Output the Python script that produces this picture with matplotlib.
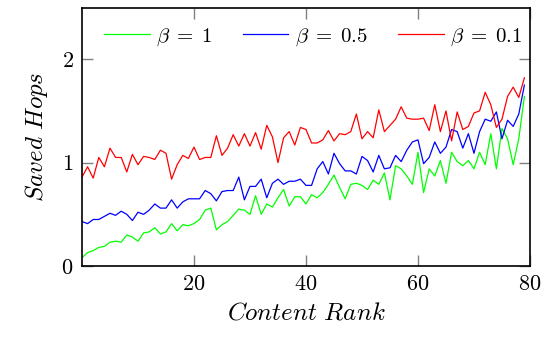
import numpy as np
import matplotlib.pyplot as plt

plt.rcParams['font.family'] = 'serif'
plt.rcParams['font.serif'] = ['cmr10', 'DejaVu Serif']
plt.rcParams['mathtext.fontset'] = 'cm'
plt.rcParams['axes.unicode_minus'] = False
plt.rcParams['axes.formatter.use_mathtext'] = True

# Content rank 0..79
rank = np.arange(80)

# saved hops for beta = 1
hops_b1 = [0.08, 0.13, 0.15, 0.18, 0.19, 0.23, 0.24, 0.23, 0.30, 0.28,
           0.24, 0.32, 0.33, 0.37, 0.31, 0.33, 0.41, 0.34, 0.40, 0.39,
           0.41, 0.45, 0.54, 0.56, 0.35, 0.40, 0.43, 0.49, 0.55, 0.54,
           0.50, 0.68, 0.50, 0.60, 0.57, 0.66, 0.74, 0.58, 0.67, 0.67,
           0.60, 0.69, 0.66, 0.71, 0.79, 0.88, 0.76, 0.65, 0.79, 0.80,
           0.78, 0.74, 0.83, 0.79, 0.90, 0.64, 0.97, 0.94, 0.87, 0.79,
           1.10, 0.71, 0.94, 0.87, 1.02, 0.80, 1.10, 1.01, 0.97, 1.02,
           0.94, 1.10, 0.98, 1.28, 0.94, 1.33, 1.23, 0.98, 1.23, 1.64]

# saved hops for beta = 0.5
hops_b05 = [0.43, 0.41, 0.45, 0.45, 0.48, 0.51, 0.49, 0.53, 0.50, 0.44,
            0.52, 0.50, 0.54, 0.60, 0.56, 0.56, 0.64, 0.56, 0.62, 0.65,
            0.65, 0.65, 0.73, 0.70, 0.63, 0.72, 0.73, 0.73, 0.86, 0.64,
            0.77, 0.77, 0.84, 0.66, 0.80, 0.84, 0.79, 0.82, 0.82, 0.84,
            0.78, 0.78, 0.94, 1.01, 0.89, 1.09, 0.99, 0.92, 0.92, 0.89,
            1.06, 1.02, 0.91, 1.07, 0.94, 0.95, 1.07, 1.01, 1.12, 1.20,
            1.22, 0.99, 1.05, 1.20, 1.09, 1.15, 1.32, 1.30, 1.14, 1.28,
            1.09, 1.30, 1.42, 1.40, 1.49, 1.23, 1.41, 1.35, 1.47, 1.75]

# saved hops for beta = 0.1
hops_b01 = [0.86, 0.96, 0.85, 1.05, 0.96, 1.14, 1.05, 1.05, 0.91, 1.08,
            0.98, 1.06, 1.05, 1.03, 1.12, 1.09, 0.84, 0.98, 1.07, 1.04,
            1.15, 1.03, 1.05, 1.05, 1.26, 1.07, 1.14, 1.27, 1.16, 1.28,
            1.16, 1.29, 1.13, 1.36, 1.25, 1.00, 1.24, 1.30, 1.17, 1.34,
            1.32, 1.19, 1.19, 1.22, 1.31, 1.21, 1.28, 1.27, 1.30, 1.47,
            1.23, 1.30, 1.24, 1.51, 1.30, 1.36, 1.42, 1.54, 1.43, 1.42,
            1.42, 1.43, 1.31, 1.56, 1.30, 1.50, 1.21, 1.49, 1.32, 1.35,
            1.48, 1.50, 1.68, 1.56, 1.34, 1.42, 1.64, 1.73, 1.63, 1.82]

labels = [r'$\beta \;=\; 1$', r'$\beta \;=\; 0.5$', r'$\beta \;=\; 0.1$']
colors = ['#00ff00', '#0000ff', '#ff0000']

fig = plt.figure(figsize=(5.6, 3.4), dpi=100)
ax = fig.add_axes([0.1464, 0.2176, 0.8, 0.7603])

for y, lab, c in zip([hops_b1, hops_b05, hops_b01], labels, colors):
    ax.plot(rank, y, color=c, lw=0.9, label=lab)

ax.set_xlim(0, 80)
ax.set_ylim(0, 2.5)
ax.set_xticks([20, 40, 60, 80])
ax.set_yticks([0, 1, 2])
ax.tick_params(direction='in', length=8, width=1, color='0.5',
               top=True, right=True, labelsize=16, pad=6)
for s in ax.spines.values():
    s.set_linewidth(1.2)

ax.set_xlabel(r'$Content\ Rank$', fontsize=18, labelpad=6)
ax.set_ylabel(r'$Saved\ Hops$', fontsize=18, labelpad=8)

ax.legend(loc='upper center', ncol=3, frameon=False, fontsize=15,
          handlelength=2.2, columnspacing=1.45, handletextpad=0.3,
          bbox_to_anchor=(0.516, 1.0), borderaxespad=0.5)

fig.savefig('out.png', dpi=100)
